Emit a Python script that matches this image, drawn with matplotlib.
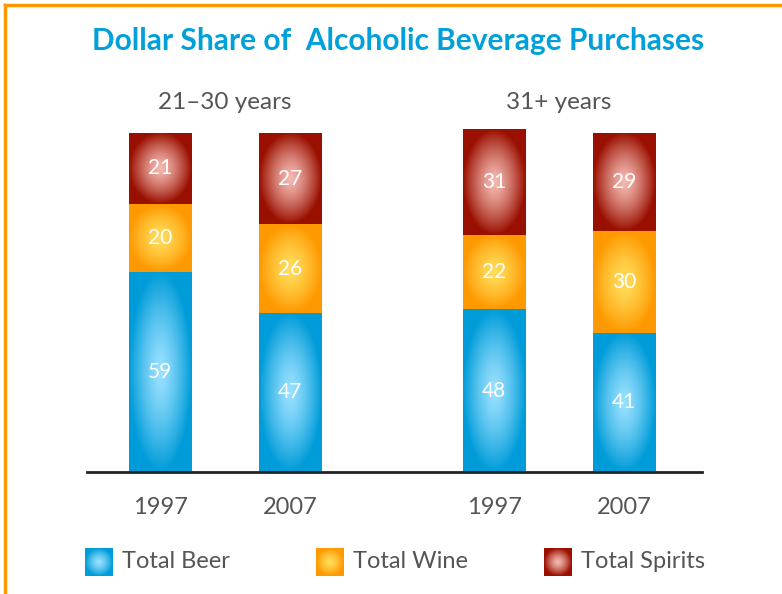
import numpy as np
import matplotlib.pyplot as plt
from matplotlib.colors import to_rgb

plt.rcParams['font.family'] = ['Lato', 'DejaVu Sans']

# data
groups = ["21\u201330 years", "31+ years"]
years = ["1997", "2007", "1997", "2007"]
beer = [59, 47, 48, 41]
wine = [20, 26, 22, 30]
spirits = [21, 27, 31, 29]
series = ["Total Beer", "Total Wine", "Total Spirits"]

edge_cols = ["#009cd9", "#ff9900", "#9a1000"]
center_cols = ["#98e0ff", "#ffdd5a", "#f4b8b0"]

x = np.array([0, 1, 2.57, 3.57])
width = 0.477

fig = plt.figure(figsize=(7.82, 5.94), dpi=100)
ax = fig.add_axes([87 / 782, 122 / 594, 615 / 782, 352 / 594])


def gradient_img(c_in, c_out, n=120):
    xx, yy = np.meshgrid(np.linspace(-1, 1, n), np.linspace(-1, 1, n))
    r = np.clip(np.sqrt(xx ** 2 + yy ** 2) / 1.0, 0, 1) ** 1.35
    a, b = np.array(to_rgb(c_in)), np.array(to_rgb(c_out))
    return a * (1 - r)[..., None] + b * r[..., None]


bottom = np.zeros(4)
for vals, ec, cc in zip([beer, wine, spirits], edge_cols, center_cols):
    bars = ax.bar(x, vals, width, bottom=bottom, color=ec, linewidth=0, zorder=2)
    img = gradient_img(cc, ec)
    for b, v in zip(bars, vals):
        x0, y0 = b.get_x(), b.get_y()
        im = ax.imshow(img, extent=(x0, x0 + b.get_width(), y0, y0 + b.get_height()),
                       aspect='auto', origin='lower', zorder=3)
        im.set_clip_path(b)
        ax.text(x0 + b.get_width() / 2, y0 + b.get_height() / 2, str(v),
                ha='center', va='center', color='white', fontsize=15, zorder=4)
    bottom += np.array(vals)

ax.set_xlim(-0.5615, 4.169)
ax.set_ylim(0, 103.8)
for s in ['top', 'right', 'left']:
    ax.spines[s].set_visible(False)
ax.spines['bottom'].set_linewidth(2)
ax.spines['bottom'].set_color('#222222')
ax.spines['bottom'].set_zorder(5)
ax.set_yticks([])
ax.set_xticks(x)
ax.set_xticklabels(years, fontsize=17, color='#555555')
ax.tick_params(axis='x', length=0, pad=18)

# group labels
for gx, g in zip([(x[0] + x[1]) / 2, (x[2] + x[3]) / 2], groups):
    ax.text(gx, 1.051, g, transform=ax.get_xaxis_transform(), ha='center', va='center',
            fontsize=17.5, color='#555555')

fig.text(398 / 782, 1 - 41 / 594, "Dollar Share of  Alcoholic Beverage Purchases",
         ha='center', va='center', fontsize=21.5, color='#00a0da', fontweight='bold')

# legend
leg_x = [85, 316, 544]
for lx, name, ec, cc in zip(leg_x, series, edge_cols, center_cols):
    lax = fig.add_axes([lx / 782, 1 - 576 / 594, 28 / 782, 28 / 594])
    lax.imshow(gradient_img(cc, ec), aspect='auto')
    lax.axis('off')
    fig.text((lx + 37) / 782, 1 - 562 / 594, name, ha='left', va='center',
             fontsize=17, color='#555555')

# orange frame
fig.add_artist(plt.Line2D([5 / 782, 1], [1 - 5 / 594] * 2, color='#ff9900', lw=2.5))
fig.add_artist(plt.Line2D([5 / 782] * 2, [0, 1 - 5 / 594], color='#ff9900', lw=2.5))

fig.savefig("out.png", dpi=100)
